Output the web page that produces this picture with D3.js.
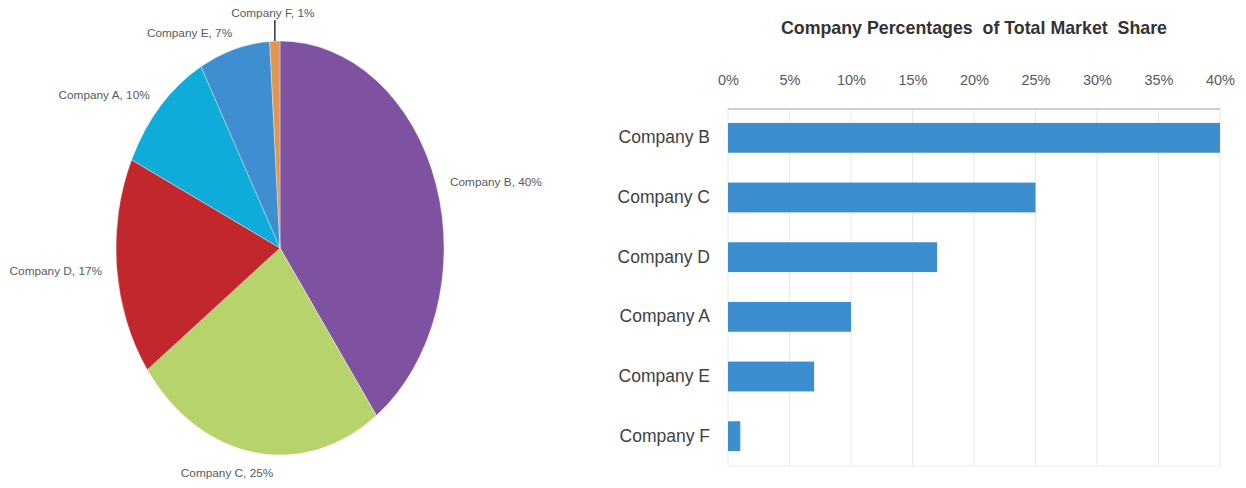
<!DOCTYPE html>
<html>
<head>
<meta charset="utf-8">
<script src="https://cdn.jsdelivr.net/npm/d3@7"></script>
<style>
  html, body { margin: 0; padding: 0; background: #fff; }
  svg { display: block; font-family: "Liberation Sans", Arial, sans-serif; }
</style>
</head>
<body>
<svg id="chart" width="1246" height="488"></svg>
<script>
// Market share by company (percent)
const pieCompanies = ["Company B", "Company C", "Company D", "Company A", "Company E", "Company F"];
const pieShares    = [40, 25, 17, 10, 7, 1];
const pieColors    = ["#7f52a1", "#b6d46b", "#c1272d", "#10acd9", "#3f8fd0", "#e29550"];

const barCompanies = ["Company B", "Company C", "Company D", "Company A", "Company E", "Company F"];
const barShares    = [40, 25, 17, 10, 7, 1];
const barTicks     = [0, 5, 10, 15, 20, 25, 30, 35, 40];
const barTitle     = "Company Percentages  of Total Market  Share";

const svg = d3.select("#chart");

// ---------- Pie (drawn as a circle, stretched into an ellipse) ----------
const cx = 280, cy = 248, ry = 207, rx = 164;
const pieData = pieCompanies.map((c, i) => ({ name: c, value: pieShares[i], color: pieColors[i] }));
const pie = d3.pie().sort(null).value(d => d.value);
const arcs = pie(pieData);
const arc = d3.arc().innerRadius(0).outerRadius(ry);

const pieG = svg.append("g")
  .attr("transform", `translate(${cx},${cy}) scale(${rx / ry},1)`);
pieG.selectAll("path")
  .data(arcs)
  .join("path")
  .attr("d", arc)
  .attr("fill", d => d.data.color)
  .attr("stroke", "#fff")
  .attr("stroke-width", 0.4);

// label placement helpers
function edgePoint(a, k) {
  return [cx + rx * k * Math.sin(a), cy - ry * k * Math.cos(a)];
}
const labelNudge = {
  "Company B": { anchor: "start", dx: 0, dy: 8 },
  "Company C": { anchor: "middle", dx: -25, dy: 6 },
  "Company D": { anchor: "end", dx: 0, dy: 6 },
  "Company A": { anchor: "end", dx: 0, dy: 5 },
  "Company E": { anchor: "end", dx: 2, dy: 6 }
};

const labelG = svg.append("g")
  .attr("font-size", 11.8)
  .attr("fill", "#5a5a5a");

arcs.forEach(d => {
  const mid = (d.startAngle + d.endAngle) / 2;
  const text = `${d.data.name}, ${d.data.value}%`;
  if (labelNudge[d.data.name]) {
    const n = labelNudge[d.data.name];
    const [x, y] = edgePoint(mid, 1.09);
    labelG.append("text")
      .attr("x", x + n.dx).attr("y", y + n.dy)
      .attr("text-anchor", n.anchor)
      .text(text);
  } else {
    // thin slice: label above with a leader line
    const [x0, y0] = edgePoint(mid, 1.0);
    svg.append("line")
      .attr("x1", x0).attr("y1", y0)
      .attr("x2", x0).attr("y2", 20)
      .attr("stroke", "#333").attr("stroke-width", 1.5);
    labelG.append("text")
      .attr("x", x0 - 2).attr("y", 17)
      .attr("text-anchor", "middle")
      .text(text);
  }
});

// ---------- Horizontal bar chart ----------
const x = d3.scaleLinear().domain([0, 40]).range([728, 1220]);
const y = d3.scaleBand().domain(barCompanies).range([108, 466])
  .paddingInner(0.5).paddingOuter(0.25);

svg.append("text")
  .attr("x", 974).attr("y", 34)
  .attr("text-anchor", "middle")
  .attr("font-weight", "bold")
  .attr("font-size", 17.8)
  .attr("fill", "#333")
  .style("white-space", "pre")
  .text(barTitle);

// vertical gridlines
svg.append("g")
  .selectAll("line")
  .data(barTicks)
  .join("line")
  .attr("x1", d => x(d)).attr("x2", d => x(d))
  .attr("y1", 108).attr("y2", 466)
  .attr("stroke", "#e8e8e8").attr("stroke-width", 1);

// bottom frame line
svg.append("line")
  .attr("x1", x(0)).attr("x2", x(40))
  .attr("y1", 466).attr("y2", 466)
  .attr("stroke", "#ececec");

const xAxis = d3.axisTop(x)
  .tickValues(barTicks)
  .tickFormat(d => d + "%")
  .tickSize(0)
  .tickPadding(0);
const axisG = svg.append("g")
  .attr("transform", "translate(0,85)")
  .call(xAxis);
axisG.select(".domain").remove();
axisG.selectAll("text")
  .attr("font-size", 14.5)
  .attr("fill", "#595959")
  .attr("font-family", "Liberation Sans, Arial, sans-serif");

// top frame line
svg.append("line")
  .attr("x1", x(0)).attr("x2", x(40))
  .attr("y1", 109).attr("y2", 109)
  .attr("stroke", "#cfcfcf").attr("stroke-width", 2);

// bars
svg.append("g")
  .selectAll("rect")
  .data(barCompanies.map((c, i) => ({ name: c, value: barShares[i] })))
  .join("rect")
  .attr("x", x(0))
  .attr("y", d => y(d.name))
  .attr("width", d => x(d.value) - x(0))
  .attr("height", y.bandwidth())
  .attr("fill", "#3d8ecf");

// category labels
const yAxis = d3.axisLeft(y).tickSize(0).tickPadding(18);
const yG = svg.append("g")
  .attr("transform", `translate(${x(0)},0)`)
  .call(yAxis);
yG.select(".domain").remove();
yG.selectAll("text")
  .attr("font-size", 17.5)
  .attr("fill", "#404040")
  .attr("font-family", "Liberation Sans, Arial, sans-serif");
</script>
</body>
</html>
